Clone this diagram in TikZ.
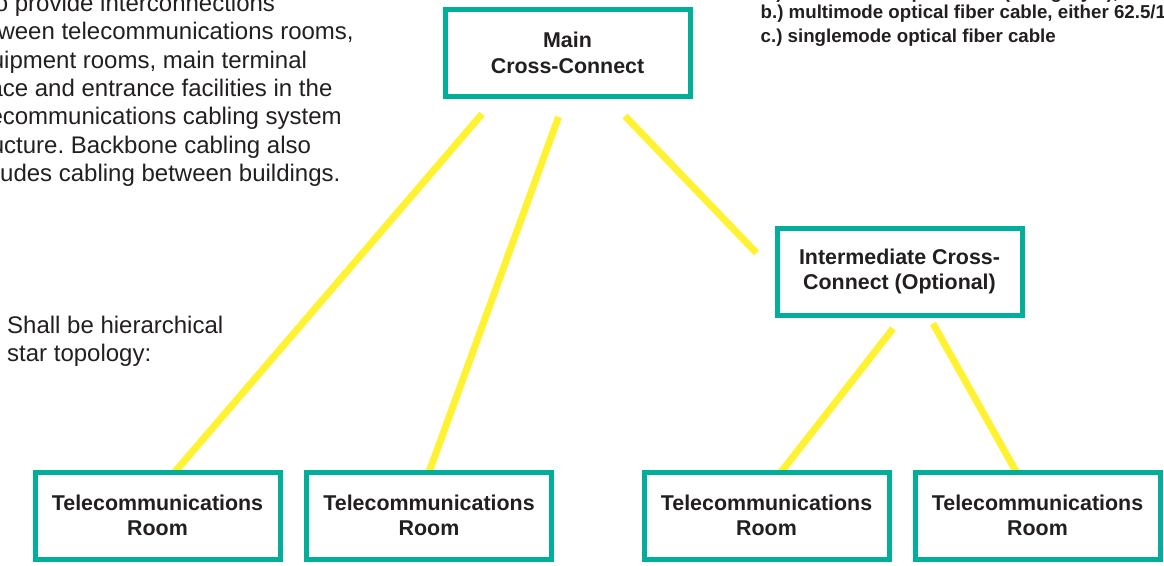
\documentclass[tikz,border=0pt]{standalone}
\usepackage{fontspec}
\setmainfont{Liberation Sans}
\usepackage{xcolor}
\usetikzlibrary{backgrounds}
\definecolor{ccteal}{RGB}{0,174,153}
\definecolor{cableyellow}{RGB}{255,242,50}
\definecolor{inkgray}{RGB}{35,31,32}
\frenchspacing

\begin{document}
\begin{tikzpicture}[
  x=1pt,y=-1pt,
  text=inkgray,
  xc/.style={draw=ccteal,line width=5pt,fill=white,align=center,minimum width=245pt,minimum height=87pt,inner sep=0pt,font=\fontsize{21.4}{25.5}\selectfont\bfseries},
  cable/.style={draw=cableyellow,line width=7pt},
  body/.style={anchor=base west,align=left,inner sep=0pt,font=\fontsize{24}{28.3}\selectfont}
]
\useasboundingbox (0,0) rectangle (1164,565);
\clip (0,0) rectangle (1164,565);

% the text blocks run past the edges of the frame, as in the slide
% (base of a multi-line node = baseline of its last line)
\node[body] (bb) at (-36,181.3) {is to provide interconnections\\between telecommunications rooms,\\equipment rooms, main terminal\\space and entrance facilities in the\\telecommunications cabling system\\structure. Backbone cabling also\\includes cabling between buildings.};
\node[body] (topo) at (7,361.5) {Shall be hierarchical\\star topology:};
\node[body,font=\fontsize{18.7}{24}\selectfont\bfseries] (cables) at (760.5,42) {a.) 100 $\Omega$ twisted-pair cable (Category 3),\\[-4.5pt]b.) multimode optical fiber cable, either 62.5/125 micron\\c.) singlemode optical fiber cable};

\node[xc] (mcc) at (567.5,53) {Main\\Cross-Connect};
\node[xc] (icc) at (899.5,271.5) {Intermediate Cross-\\Connect (Optional)};
\node[xc] (tr1) at (157.5,515.5) {Telecommunications\\Room};
\node[xc] (tr2) at (429,515.5) {Telecommunications\\Room};
\node[xc] (tr3) at (766.5,515.5) {Telecommunications\\Room};
\node[xc] (tr4) at (1037.5,515.5) {Telecommunications\\Room};

% backbone cables sit behind the boxes
\begin{scope}[on background layer]
  \draw[cable] ([xshift=-85.5pt,yshift=-15pt]mcc.south) -- ([xshift=16pt,yshift=-4pt]tr1.north);
  \draw[cable] ([xshift=-9pt,yshift=-18pt]mcc.south) -- ([xshift=-0.5pt,yshift=-4pt]tr2.north);
  \draw[cable] ([xshift=57.5pt,yshift=-17pt]mcc.south) -- ([xshift=-18pt,yshift=18.5pt]icc.west);
  \draw[cable] ([xshift=-6.5pt,yshift=-11pt]icc.south) -- ([xshift=13.4pt,yshift=-4pt]tr3.north);
  \draw[cable] ([xshift=33.5pt,yshift=-6pt]icc.south) -- ([xshift=-20.3pt,yshift=-4pt]tr4.north);
\end{scope}
\end{tikzpicture}
\end{document}
